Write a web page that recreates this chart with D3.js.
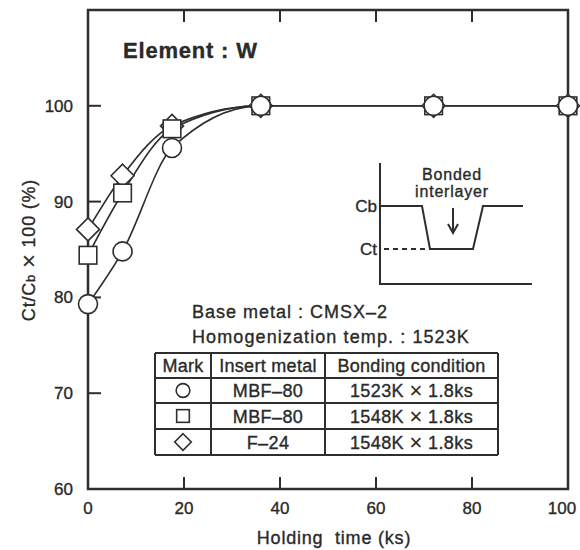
<!DOCTYPE html>
<html>
<head>
<meta charset="utf-8">
<script src="https://cdn.jsdelivr.net/npm/d3@7"></script>
<style>
  body { margin: 0; background: #fff; }
  text { font-family: "Liberation Sans", Arial, sans-serif; fill: #2a2a2a; stroke: #2a2a2a; stroke-width: 0.35; }
</style>
</head>
<body>
<div class="canvas"></div>
<script>
var width = 580,
	height = 550;

// data
var times = [0, 7.2, 17.5, 36, 72, 100];
var circleVals = [79.3, 84.8, 95.6, 100, 100, 100];
var squareVals = [84.4, 90.9, 97.6, 100, 100, 100];
var diamondVals = [87.1, 92.7, 97.9, 100, 100, 100];
var xTickLabels = [0, 20, 40, 60, 80, 100];
var yTickLabels = [60, 70, 80, 90, 100];
var tableHead = ["Mark", "Insert metal", "Bonding condition"];
var tableMarks = ["circle", "square", "diamond"];
var tableInsert = ["MBF\u201380", "MBF\u201380", "F\u201324"];
var tableTemp = ["1523K", "1548K", "1548K"];
var tableTime = ["1.8ks", "1.8ks", "1.8ks"];

var ink = "#2e2e2e";

var svg = d3.select(".canvas")
	.append("svg")
	.attr("width", width)
	.attr("height", height);

var x = d3.scaleLinear().domain([0, 100]).range([88, 568]);
var y = d3.scaleLinear().domain([60, 110]).range([489, 10]);

/* ---------- frame + ticks ---------- */
svg.append("rect")
	.attr("x", x(0)).attr("y", y(110))
	.attr("width", x(100) - x(0)).attr("height", y(60) - y(110))
	.attr("fill", "none").attr("stroke", ink).attr("stroke-width", 2.5);

var inner = xTickLabels.slice(1, -1);
inner.forEach(function(t) {
	svg.append("line").attr("x1", x(t)).attr("x2", x(t))
		.attr("y1", y(60)).attr("y2", y(60) - 12)
		.attr("stroke", ink).attr("stroke-width", 2);
	svg.append("line").attr("x1", x(t)).attr("x2", x(t))
		.attr("y1", y(110)).attr("y2", y(110) + 12)
		.attr("stroke", ink).attr("stroke-width", 2);
});
yTickLabels.slice(1).forEach(function(t) {
	svg.append("line").attr("x1", x(0)).attr("x2", x(0) + 13)
		.attr("y1", y(t)).attr("y2", y(t))
		.attr("stroke", ink).attr("stroke-width", 2);
});

svg.selectAll(".xlab").data(xTickLabels).enter().append("text")
	.attr("x", function(d) { return Math.min(x(d), 562); })
	.attr("y", 514)
	.attr("text-anchor", "middle")
	.attr("font-size", 17)
	.text(function(d) { return d; });

svg.selectAll(".ylab").data(yTickLabels).enter().append("text")
	.attr("x", 73)
	.attr("y", function(d) { return y(d) + 6; })
	.attr("text-anchor", "end")
	.attr("font-size", 17)
	.text(function(d) { return d; });

svg.append("text")
	.attr("x", 334).attr("y", 544)
	.attr("text-anchor", "middle")
	.attr("font-size", 18)
	.attr("letter-spacing", 0.8)
	.attr("xml:space", "preserve")
	.text("Holding  time (ks)");

var ylab = svg.append("text")
	.attr("transform", "translate(35,250) rotate(-90)")
	.attr("text-anchor", "middle")
	.attr("font-size", 18)
	.attr("letter-spacing", 0.8);
ylab.append("tspan").text("Ct/C");
ylab.append("tspan").attr("font-size", 13).text("b");
ylab.append("tspan").text(" ");
ylab.append("tspan").attr("font-size", 24).style("stroke-width", 0.1).attr("dy", 2).text("\u00d7");
ylab.append("tspan").attr("dy", -2).text(" 100 (%)");

svg.append("text")
	.attr("x", 123).attr("y", 58)
	.attr("font-size", 22)
	.attr("font-weight", "bold")
	.attr("letter-spacing", 0.8)
	.text("Element : W");

/* ---------- curves ---------- */
var line = d3.line()
	.x(function(d) { return x(d[0]); })
	.y(function(d) { return y(d[1]); })
	.curve(d3.curveMonotoneX);

[circleVals, squareVals, diamondVals].forEach(function(vals) {
	var pts = times.map(function(t, i) { return [t, vals[i]]; });
	svg.append("path")
		.attr("d", line(pts))
		.attr("fill", "none")
		.attr("stroke", ink)
		.attr("stroke-width", 1.6);
});

function mark(g, kind, cx, cy, s) {
	if (kind === "circle") {
		g.append("circle").attr("cx", cx).attr("cy", cy).attr("r", 9.5 * s)
			.attr("fill", "#fff").attr("stroke", ink).attr("stroke-width", 1.6);
	} else if (kind === "square") {
		g.append("rect").attr("x", cx - 8.8 * s).attr("y", cy - 8.8 * s)
			.attr("width", 17.6 * s).attr("height", 17.6 * s)
			.attr("fill", "#fff").attr("stroke", ink).attr("stroke-width", 1.6);
	} else {
		var r = 11.5 * s;
		g.append("path")
			.attr("d", "M" + cx + "," + (cy - r) + "L" + (cx + r) + "," + cy +
				"L" + cx + "," + (cy + r) + "L" + (cx - r) + "," + cy + "Z")
			.attr("fill", "#fff").attr("stroke", ink).attr("stroke-width", 1.6);
	}
}

var marks = svg.append("g");
times.forEach(function(t, i) {
	mark(marks, "diamond", x(t), y(diamondVals[i]), 1);
	mark(marks, "square", x(t), y(squareVals[i]), 1);
	mark(marks, "circle", x(t), y(circleVals[i]), 1);
});

/* ---------- inset sketch ---------- */
var inset = svg.append("g").attr("stroke", ink).attr("fill", "none").attr("stroke-width", 2);
inset.append("path").attr("d", "M380,163V284H532");
inset.append("path").attr("d", "M380,206H422L430,249H473L483,206H523");
inset.append("path").attr("d", "M384,249H430").attr("stroke-dasharray", "5,4");
inset.append("path").attr("d", "M453,208V232");
inset.append("path").attr("d", "M448,224L453,233L458,224");

svg.append("text").attr("x", 377).attr("y", 212).attr("text-anchor", "end")
	.attr("font-size", 17).text("Cb");
svg.append("text").attr("x", 377).attr("y", 255).attr("text-anchor", "end")
	.attr("font-size", 17).text("Ct");
svg.append("text").attr("x", 452).attr("y", 180).attr("text-anchor", "middle")
	.attr("font-size", 16).attr("letter-spacing", 0.8).text("Bonded");
svg.append("text").attr("x", 452).attr("y", 197).attr("text-anchor", "middle")
	.attr("font-size", 16).attr("letter-spacing", 0.8).text("interlayer");

/* ---------- notes + table ---------- */
svg.append("text").attr("x", 192).attr("y", 318)
	.attr("font-size", 18).attr("letter-spacing", 1.0).text("Base metal : CMSX\u20132");
svg.append("text").attr("x", 192).attr("y", 343)
	.attr("font-size", 18).attr("letter-spacing", 1.1).text("Homogenization temp. : 1523K");

var colX = [155, 211, 325, 498];
var rowY = [353, 378, 403, 429, 455];
var tab = svg.append("g").attr("stroke", ink).attr("stroke-width", 2);
rowY.forEach(function(ry) {
	tab.append("line").attr("x1", colX[0]).attr("x2", colX[3]).attr("y1", ry).attr("y2", ry);
});
colX.forEach(function(cx) {
	tab.append("line").attr("x1", cx).attr("x2", cx).attr("y1", rowY[0]).attr("y2", rowY[4]);
});

function colMid(c) { return (colX[c] + colX[c + 1]) / 2; }
function rowMid(r) { return (rowY[r] + rowY[r + 1]) / 2; }

tableHead.forEach(function(h, c) {
	svg.append("text").attr("x", colMid(c)).attr("y", rowMid(0) + 6.5)
		.attr("text-anchor", "middle").attr("font-size", 18).attr("letter-spacing", 0.3)
		.text(h);
});
tableMarks.forEach(function(m, i) {
	mark(svg, m, colMid(0), rowMid(i + 1), 0.72);
	svg.append("text").attr("x", colMid(1)).attr("y", rowMid(i + 1) + 6.5)
		.attr("text-anchor", "middle").attr("font-size", 18).attr("letter-spacing", 0.4)
		.text(tableInsert[i]);
	var cond = svg.append("text").attr("x", colMid(2)).attr("y", rowMid(i + 1) + 6.5)
		.attr("text-anchor", "middle").attr("font-size", 18).attr("letter-spacing", 0.4);
	cond.append("tspan").text(tableTemp[i] + " ");
	cond.append("tspan").attr("font-size", 22).attr("dy", 1).style("stroke-width", 0.1).text("\u00d7");
	cond.append("tspan").attr("dy", -1).text(" " + tableTime[i]);
});
</script>
</body>
</html>
